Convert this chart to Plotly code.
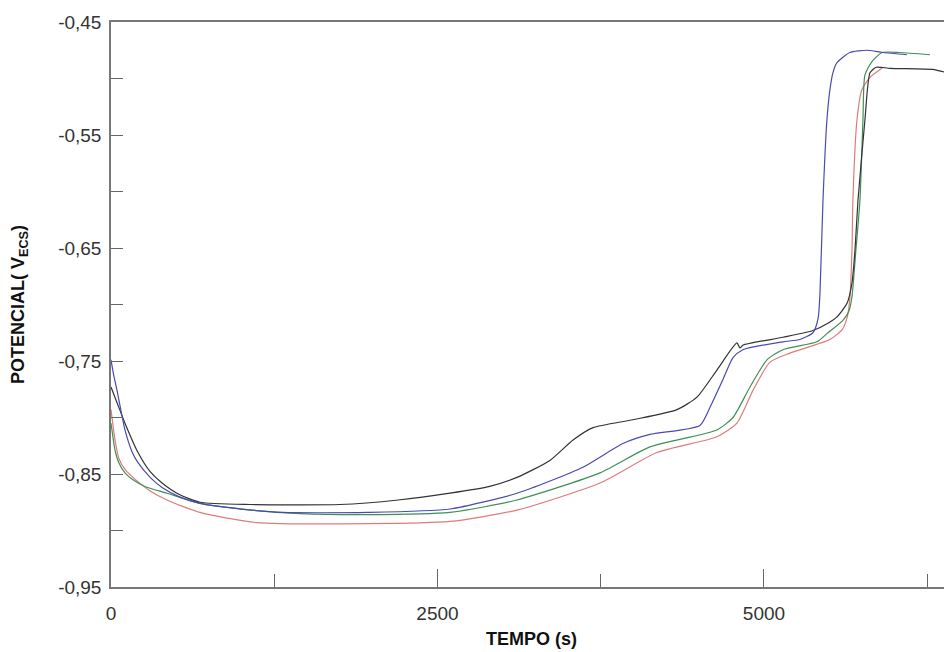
import plotly.graph_objects as go

# ---- data (time in s, potential in V_ECS) ----
t_black = [0, 50, 107, 207, 300, 391, 520, 681, 1064, 1753, 2200, 2596, 2900, 3109, 3361, 3538, 3691, 3997,
           4334, 4487, 4640, 4793, 4816, 4839, 5145, 5375, 5500, 5559, 5636, 5674, 5697, 5720, 5773, 5812,
           5860, 5965, 6294, 6371, 6440]
v_black = [-0.773, -0.788, -0.805, -0.831, -0.848, -0.858, -0.868, -0.875, -0.877, -0.877, -0.873, -0.867,
           -0.861, -0.853, -0.838, -0.820, -0.809, -0.802, -0.793, -0.782, -0.758, -0.734, -0.7385, -0.736,
           -0.729, -0.723, -0.716, -0.711, -0.699, -0.681, -0.652, -0.608, -0.537, -0.495, -0.490, -0.491,
           -0.492, -0.494, -0.495]

t_blue = [0, 20, 46, 107, 160, 207, 300, 391, 520, 681, 1000, 1317, 1960, 2596, 3109, 3614, 3920, 4127,
          4510, 4587, 4680, 4763, 4839, 5145, 5276, 5375, 5415, 5429, 5452, 5482, 5505, 5528, 5559, 5658,
          5789, 5911, 6095]
v_blue = [-0.749, -0.762, -0.776, -0.811, -0.830, -0.840, -0.853, -0.862, -0.870, -0.876, -0.881, -0.884,
          -0.884, -0.881, -0.867, -0.844, -0.823, -0.815, -0.807, -0.791, -0.768, -0.747, -0.740, -0.733,
          -0.731, -0.725, -0.712, -0.690, -0.608, -0.537, -0.510, -0.495, -0.486, -0.477, -0.475, -0.477,
          -0.479]

t_green = [0, 31, 60, 107, 180, 260, 429, 681, 1000, 1447, 1960, 2596, 3109, 3744, 4127, 4640, 4763, 4893,
           5023, 5145, 5406, 5490, 5605, 5650, 5674, 5704, 5735, 5758, 5773, 5827, 5904, 6041, 6271]
v_green = [-0.805, -0.829, -0.840, -0.849, -0.856, -0.861, -0.867, -0.876, -0.881, -0.885, -0.886, -0.884,
           -0.873, -0.849, -0.826, -0.811, -0.800, -0.773, -0.749, -0.740, -0.733, -0.725, -0.714, -0.706,
           -0.693, -0.652, -0.608, -0.537, -0.497, -0.485, -0.477, -0.477, -0.479]

t_red = [0, 31, 60, 107, 168, 300, 429, 681, 1118, 1960, 2596, 3109, 3744, 4181, 4640, 4793, 4916, 5046,
         5199, 5505, 5600, 5640, 5658, 5674, 5681, 5712, 5750, 5812, 5904]
v_red = [-0.793, -0.820, -0.836, -0.846, -0.853, -0.865, -0.873, -0.884, -0.893, -0.894, -0.892, -0.882,
         -0.858, -0.831, -0.817, -0.805, -0.776, -0.751, -0.743, -0.731, -0.722, -0.710, -0.694, -0.652,
         -0.608, -0.537, -0.510, -0.499, -0.491]

x_ticks = [0, 2500, 5000]
x_ticktext = ["0", "2500", "5000"]
x_minor = [1250, 3750, 6250]
y_ticks = [-0.95, -0.85, -0.75, -0.65, -0.55, -0.45]
y_ticktext = ["-0,95", "-0,85", "-0,75", "-0,65", "-0,55", "-0,45"]
y_minor = [-0.90, -0.80, -0.70, -0.60, -0.50]

series = [
    (t_red, v_red, "#e07a7a"),
    (t_green, v_green, "#3f8f55"),
    (t_black, v_black, "#333333"),
    (t_blue, v_blue, "#4a4aae"),
]

fig = go.Figure()
for t, v, c in series:
    fig.add_trace(go.Scatter(x=t, y=v, mode="lines",
                             line=dict(color=c, width=1.2, shape="spline", smoothing=0.6),
                             showlegend=False, hoverinfo="skip"))

font_fam = "Liberation Sans, Arial, sans-serif"
# page body has an 8px margin, so the figure is 944x644 to fill the 952x652 window
fig.update_layout(
    width=944, height=644,
    margin=dict(l=103, r=0, t=14, b=65),
    paper_bgcolor="white", plot_bgcolor="white",
    font=dict(family=font_fam, size=19, color="#333333"),
    xaxis=dict(
        range=[0, 6440], showgrid=False, zeroline=False, automargin=False,
        showline=True, linecolor="#777777", linewidth=1.5, mirror=True,
        tickvals=x_ticks, ticktext=x_ticktext, ticks="inside", ticklen=18,
        tickcolor="#666666", tickwidth=1, ticklabelstandoff=8,
        tickfont=dict(size=19, color="#333333"),
        minor=dict(tickvals=x_minor, ticks="inside", ticklen=13, tickcolor="#666666", tickwidth=1),
        title=dict(text="<b>TEMPO (s)</b>", font=dict(size=18, color="#111111"), standoff=10),
    ),
    yaxis=dict(
        range=[-0.95, -0.45], showgrid=False, zeroline=False, automargin=False,
        showline=True, linecolor="#777777", linewidth=1.5,
        tickvals=y_ticks, ticktext=y_ticktext, ticks="inside", ticklen=12,
        tickcolor="#666666", tickwidth=1, ticklabelstandoff=4,
        tickfont=dict(size=19, color="#333333"),
        minor=dict(tickvals=y_minor, ticks="inside", ticklen=12, tickcolor="#666666", tickwidth=1),
        title=dict(text="<b>POTENCIAL( V<sub>ECS</sub>)</b>", font=dict(size=18, color="#111111"),
                   standoff=36),
    ),
)

fig.write_html("out.html")
